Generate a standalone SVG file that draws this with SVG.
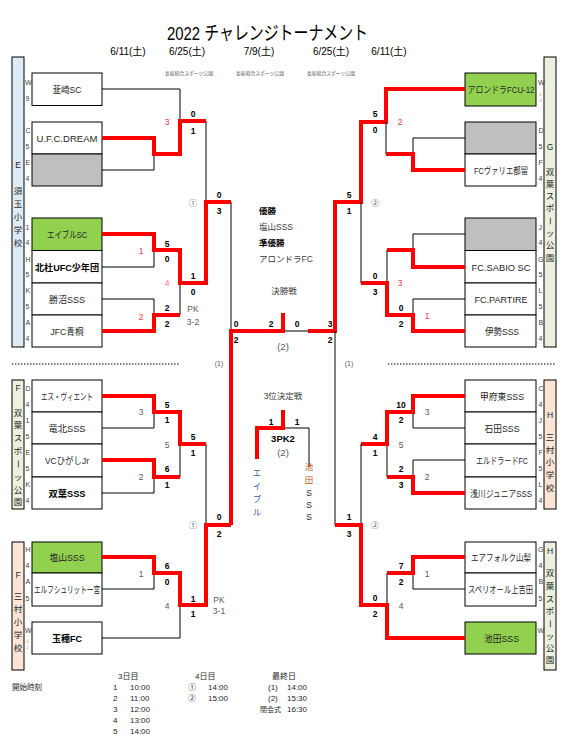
<svg xmlns="http://www.w3.org/2000/svg" width="573" height="751" viewBox="0 0 573 751">
<style>
text{font-family:"Liberation Sans","Noto Sans CJK JP",sans-serif}
.ti{font-size:19px;fill:#000}
.dt{font-size:10px;fill:#000;text-anchor:middle}
.vn{font-size:4.8px;fill:#595959;text-anchor:middle}
.tm{font-size:9.5px;fill:#262626;text-anchor:middle}
.b{font-weight:bold;fill:#000}
.s{font-size:8.5px;font-weight:bold;fill:#000;text-anchor:middle}
.g{font-size:8.5px;fill:#595959;text-anchor:middle}
.r{font-size:8.5px;fill:#FF3333;text-anchor:middle}
.pk{font-size:8.5px;fill:#FF6A8E;text-anchor:middle}
.lt{font-size:7px;fill:#404040}
.tn{font-size:4px;fill:#E07020}
.v{font-size:8.5px;fill:#262626;text-anchor:middle;dominant-baseline:central}
.c{font-size:8.5px;fill:#404040}
.ft{font-size:8px;fill:#262626}
.ln{fill:none;stroke:#000;stroke-width:1}
.rd{fill:none;stroke:#FF0000;stroke-width:4;stroke-linejoin:miter}
.bx{stroke:#000;stroke-width:1}
.dot{stroke:#000;stroke-width:1;stroke-dasharray:1.5 1.5}
</style>

<!-- header -->
<text class="ti" x="167" y="40" textLength="201" lengthAdjust="spacingAndGlyphs">2022 チャレンジトーナメント</text>
<text class="dt" x="128" y="55">6/11(土)</text>
<text class="dt" x="187" y="55">6/25(土)</text>
<text class="dt" x="259" y="55">7/9(土)</text>
<text class="dt" x="331" y="55">6/25(土)</text>
<text class="dt" x="389" y="55">6/11(土)</text>
<text class="vn" x="189" y="75">長坂総合スポーツ公園</text>
<text class="vn" x="260" y="75">長坂総合スポーツ公園</text>
<text class="vn" x="331" y="75">長坂総合スポーツ公園</text>

<!-- venue boxes -->
<g id="venue-E">
<rect class="bx" x="12" y="57" width="12" height="290" fill="#DDEBF7"/>
<text class="v" x="18" y="165">E</text>
<text class="v" x="18" y="191">須</text><text class="v" x="18" y="204">玉</text><text class="v" x="18" y="217">小</text><text class="v" x="18" y="230">学</text><text class="v" x="18" y="243">校</text>
</g>
<g id="venue-G">
<rect class="bx" x="544" y="57" width="12" height="290" fill="#EBF1DE"/>
<text class="v" x="550" y="147">G</text>
<text class="v" x="550" y="172">双</text><text class="v" x="550" y="184">葉</text><text class="v" x="550" y="196">ス</text><text class="v" x="550" y="208">ポ</text><text class="v" x="550" y="221" transform="rotate(90 550 221)">ー</text><text class="v" x="550" y="233">ッ</text><text class="v" x="550" y="245">公</text><text class="v" x="550" y="258">園</text>
</g>
<g id="venue-F1">
<rect class="bx" x="12" y="380" width="12" height="129" fill="#EBF1DE"/>
<text class="v" x="18" y="388">F</text>
<text class="v" x="18" y="413">双</text><text class="v" x="18" y="425">葉</text><text class="v" x="18" y="438">ス</text><text class="v" x="18" y="451">ポ</text><text class="v" x="18" y="464" transform="rotate(90 18 464)">ー</text><text class="v" x="18" y="477">ッ</text><text class="v" x="18" y="490">公</text><text class="v" x="18" y="502">園</text>
</g>
<g id="venue-F2">
<rect class="bx" x="12" y="542" width="12" height="128" fill="#FCE4D6"/>
<text class="v" x="18" y="575">F</text>
<text class="v" x="18" y="596">三</text><text class="v" x="18" y="609">村</text><text class="v" x="18" y="622">小</text><text class="v" x="18" y="635">学</text><text class="v" x="18" y="648">校</text>
</g>
<g id="venue-H1">
<rect class="bx" x="544" y="380" width="12" height="129" fill="#FCE4D6"/>
<text class="v" x="550" y="415">H</text>
<text class="v" x="550" y="437">三</text><text class="v" x="550" y="450">村</text><text class="v" x="550" y="462">小</text><text class="v" x="550" y="475">学</text><text class="v" x="550" y="488">校</text>
</g>
<g id="venue-H2">
<rect class="bx" x="544" y="542" width="12" height="128" fill="#EBF1DE"/>
<text class="v" x="550" y="551">H</text>
<text class="v" x="550" y="573">双</text><text class="v" x="550" y="586">葉</text><text class="v" x="550" y="599">ス</text><text class="v" x="550" y="611">ポ</text><text class="v" x="550" y="624" transform="rotate(90 550 624)">ー</text><text class="v" x="550" y="636">ッ</text><text class="v" x="550" y="648">公</text><text class="v" x="550" y="660">園</text>
</g>

<!-- team boxes left -->
<g id="n-nirasaki"><rect class="bx" x="32" y="73" width="70" height="32.5" fill="#fff"/><text class="tm" x="67" y="92.5" textLength="29" lengthAdjust="spacingAndGlyphs">韮崎SC</text><text class="lt" x="25" y="84.5">W</text><text class="lt" x="25.5" y="100.5">9</text></g>
<g id="n-dream"><rect class="bx" x="32" y="122" width="70" height="32" fill="#fff"/><text class="tm" x="67" y="141.5" textLength="61" lengthAdjust="spacingAndGlyphs">U.F.C.DREAM</text><text class="lt" x="25.5" y="132.5">C</text><text class="lt" x="25.5" y="148.5">5</text></g>
<g id="n-gray1"><rect class="bx" x="32" y="154" width="70" height="32" fill="#BFBFBF"/><text class="lt" x="25.5" y="164.5">E</text><text class="lt" x="25.5" y="180.5">4</text></g>
<g id="n-able"><rect class="bx" x="32" y="218" width="70" height="32.5" fill="#92D050"/><text class="tm" x="67" y="237.5" textLength="40" lengthAdjust="spacingAndGlyphs">エイブルSC</text><text class="lt" x="25.5" y="229.5">1</text><text class="lt" x="25.5" y="244.5">4</text></g>
<g id="n-hokuto"><rect class="bx" x="32" y="250.5" width="70" height="32.5" fill="#fff"/><text class="tm b" x="67" y="270.5" textLength="64" lengthAdjust="spacingAndGlyphs">北杜UFC少年団</text><text class="lt" x="25.5" y="261.5">H</text><text class="lt" x="25.5" y="276.5">5</text></g>
<g id="n-katsunuma"><rect class="bx" x="32" y="283" width="70" height="32" fill="#fff"/><text class="tm" x="67" y="302.5" textLength="36" lengthAdjust="spacingAndGlyphs">勝沼SSS</text><text class="lt" x="25.5" y="292.5">K</text><text class="lt" x="25.5" y="308.5">5</text></g>
<g id="n-jfc"><rect class="bx" x="32" y="315" width="70" height="32" fill="#fff"/><text class="tm" x="67" y="334.5" textLength="33" lengthAdjust="spacingAndGlyphs">JFC青桐</text><text class="lt" x="25.5" y="324.5">A</text><text class="lt" x="25.5" y="341">4</text></g>

<g id="n-esu"><rect class="bx" x="32" y="380" width="70" height="32" fill="#fff"/><text class="tm" x="67" y="399.5" textLength="52" lengthAdjust="spacingAndGlyphs">エス・ヴィエント</text><text class="lt" x="25.5" y="390.5">D</text><text class="lt" x="25.5" y="406.5">4</text></g>
<g id="n-ryuhoku"><rect class="bx" x="32" y="412" width="70" height="32" fill="#fff"/><text class="tm" x="67" y="431.5" textLength="37" lengthAdjust="spacingAndGlyphs">竜北SSS</text><text class="lt" x="25.5" y="422.5">1</text><text class="lt" x="25.5" y="438.5">5</text></g>
<g id="n-vc"><rect class="bx" x="32" y="444" width="70" height="33" fill="#fff"/><text class="tm" x="67" y="463.5" textLength="44" lengthAdjust="spacingAndGlyphs">VCひがしJr</text><text class="lt" x="25.5" y="454.5">E</text><text class="lt" x="25.5" y="470.5">5</text></g>
<g id="n-futaba"><rect class="bx" x="32" y="477" width="70" height="32" fill="#fff"/><text class="tm b" x="67" y="496.5" textLength="37" lengthAdjust="spacingAndGlyphs">双葉SSS</text><text class="lt" x="25.5" y="486.5">K</text><text class="lt" x="25.5" y="502.5">4</text></g>
<g id="n-enzan"><rect class="bx" x="32" y="542" width="70" height="31" fill="#92D050"/><text class="tm" x="67" y="560.5" textLength="35" lengthAdjust="spacingAndGlyphs">塩山SSS</text><text class="lt" x="25.5" y="551.5">H</text><text class="lt" x="25.5" y="567.5">4</text></g>
<g id="n-elf"><rect class="bx" x="32" y="573" width="70" height="33" fill="#fff"/><text class="tm" x="67" y="592.5" textLength="66" lengthAdjust="spacingAndGlyphs">エルフシュリット一宮</text><text class="lt" x="25.5" y="583.5">A</text><text class="lt" x="25.5" y="600.5">5</text></g>
<g id="n-tamaho"><rect class="bx" x="32" y="622" width="70" height="32" fill="#fff"/><text class="tm b" x="67" y="641.5" textLength="30" lengthAdjust="spacingAndGlyphs">玉穂FC</text><text class="lt" x="25" y="632.5">W</text><text class="tn" x="26.5" y="642.5">1</text><text class="tn" x="26.5" y="649">2</text></g>

<!-- team boxes right -->
<g id="n-alondra"><rect class="bx" x="465" y="73" width="71" height="33" fill="#92D050"/><text class="tm" x="501" y="92.5" textLength="67" lengthAdjust="spacingAndGlyphs">アロンドラFCU-12</text><text class="lt" x="538" y="84.5">W</text><text class="tn" x="539.5" y="95.5">1</text><text class="tn" x="539.5" y="102">2</text></g>
<g id="n-gray2"><rect class="bx" x="465" y="122" width="71" height="32" fill="#BFBFBF"/><text class="lt" x="538.5" y="132.5">D</text><text class="lt" x="538.5" y="148.5">5</text></g>
<g id="n-varie"><rect class="bx" x="465" y="154" width="71" height="32" fill="#fff"/><text class="tm" x="501" y="173.5" textLength="54" lengthAdjust="spacingAndGlyphs">FCヴァリエ都留</text><text class="lt" x="538.5" y="164.5">F</text><text class="lt" x="538.5" y="180.5">4</text></g>
<g id="n-gray3"><rect class="bx" x="465" y="218" width="71" height="32.5" fill="#BFBFBF"/><text class="lt" x="538.5" y="229.5">J</text><text class="lt" x="538.5" y="244.5">4</text></g>
<g id="n-sabio"><rect class="bx" x="465" y="250.5" width="71" height="32.5" fill="#fff"/><text class="tm" x="501" y="270.5" textLength="59" lengthAdjust="spacingAndGlyphs">FC.SABIO SC</text><text class="lt" x="538" y="261.5">G</text><text class="lt" x="538.5" y="276.5">5</text></g>
<g id="n-partire"><rect class="bx" x="465" y="283" width="71" height="32" fill="#fff"/><text class="tm" x="501" y="302.5" textLength="53" lengthAdjust="spacingAndGlyphs">FC.PARTIRE</text><text class="lt" x="538.5" y="292.5">L</text><text class="lt" x="538.5" y="308.5">5</text></g>
<g id="n-ise"><rect class="bx" x="465" y="315" width="71" height="32" fill="#fff"/><text class="tm" x="502" y="334.5" textLength="34" lengthAdjust="spacingAndGlyphs">伊勢SSS</text><text class="lt" x="538.5" y="324.5">B</text><text class="lt" x="538.5" y="340.5">4</text></g>

<g id="n-kofuhigashi"><rect class="bx" x="465" y="380" width="71" height="32" fill="#fff"/><text class="tm" x="502" y="399.5" textLength="44" lengthAdjust="spacingAndGlyphs">甲府東SSS</text><text class="lt" x="538.5" y="390.5">C</text><text class="lt" x="538.5" y="406.5">4</text></g>
<g id="n-ishida"><rect class="bx" x="465" y="412" width="71" height="32" fill="#fff"/><text class="tm" x="502" y="431.5" textLength="35" lengthAdjust="spacingAndGlyphs">石田SSS</text><text class="lt" x="538.5" y="422.5">J</text><text class="lt" x="538.5" y="438.5">5</text></g>
<g id="n-eldorado"><rect class="bx" x="465" y="444" width="71" height="33" fill="#fff"/><text class="tm" x="502" y="463.5" textLength="52" lengthAdjust="spacingAndGlyphs">エルドラードFC</text><text class="lt" x="538.5" y="454.5">F</text><text class="lt" x="538.5" y="470.5">5</text></g>
<g id="n-asakawa"><rect class="bx" x="465" y="477" width="71" height="32" fill="#fff"/><text class="tm" x="501" y="496.5" textLength="62" lengthAdjust="spacingAndGlyphs">浅川ジュニアSSS</text><text class="lt" x="538.5" y="486.5">L</text><text class="lt" x="538.5" y="502.5">4</text></g>
<g id="n-airfolk"><rect class="bx" x="465" y="542" width="71" height="31" fill="#fff"/><text class="tm" x="501" y="560.5" textLength="60" lengthAdjust="spacingAndGlyphs">エアフォルク山梨</text><text class="lt" x="538" y="551.5">G</text><text class="lt" x="538.5" y="567.5">4</text></g>
<g id="n-superior"><rect class="bx" x="465" y="573" width="71" height="33" fill="#fff"/><text class="tm" x="500.5" y="592.5" textLength="65" lengthAdjust="spacingAndGlyphs">スペリオール上吉田</text><text class="lt" x="538.5" y="583.5">B</text><text class="lt" x="538.5" y="600.5">5</text></g>
<g id="n-ikeda"><rect class="bx" x="465" y="622" width="71" height="32" fill="#92D050"/><text class="tm" x="501.5" y="641.5" textLength="35" lengthAdjust="spacingAndGlyphs">池田SSS</text><text class="lt" x="537.5" y="632.5">W</text><text class="tn" x="539.5" y="642.5">:</text><text class="tn" x="539.5" y="649">:</text></g>

<!-- connectors -->
<g id="connectors">
<line class="dot" x1="12" y1="364" x2="180" y2="364"/>
<line class="dot" x1="388" y1="364" x2="555" y2="364"/>
<path class="ln" d="M102,89 H180 V121"/>
<path class="ln" d="M102,170 H154 V154"/>
<path class="ln" d="M206,121 V202"/>
<path class="ln" d="M102,267 H154 V250"/>
<path class="ln" d="M102,299 H154 V315"/>
<path class="ln" d="M180,283 V315"/>
<path class="ln" d="M231,202 V331"/>
<path class="rd" d="M102,138 H154 V154 H180 V121 H206"/>
<path class="rd" d="M102,234 H154 V250 H180 V283 H206 V202 H231"/>
<path class="rd" d="M102,331 H154 V315 H180"/>
<path class="ln" d="M283,331 H308"/>
<path class="rd" d="M231,525 V331 H283 V313"/>
<path class="rd" d="M308,331 H335 V202 H361 V122 H386 V89 H465"/>
<path class="ln" d="M386,122 V154"/>
<path class="ln" d="M465,138 H413 V154"/>
<path class="rd" d="M465,170 H413 V154 H386"/>
<path class="ln" d="M361,202 V283"/>
<path class="ln" d="M465,234 H413 V250"/>
<path class="ln" d="M387,250 V283"/>
<path class="rd" d="M465,267 H413 V250 H387"/>
<path class="ln" d="M465,299 H413 V315"/>
<path class="rd" d="M465,331 H413 V315 H387 V283 H361"/>
<path class="ln" d="M102,428 H154 V412"/>
<path class="ln" d="M180,444 V477"/>
<path class="ln" d="M102,493 H154 V477"/>
<path class="ln" d="M206,444 V525"/>
<path class="rd" d="M102,396 H154 V412 H180 V444 H206"/>
<path class="rd" d="M102,460 H154 V477 H180"/>
<path class="ln" d="M102,589 H154 V573"/>
<path class="ln" d="M102,638 H180 V605"/>
<path class="rd" d="M102,557 H154 V573 H180 V605 H206 V525 H231"/>
<path class="ln" d="M465,428 H413 V412"/>
<path class="ln" d="M465,460 H413 V477"/>
<path class="ln" d="M387,444 V477"/>
<path class="rd" d="M465,396 H413 V412 H387 V444 H361"/>
<path class="rd" d="M465,493 H413 V477 H387"/>
<path class="ln" d="M361,444 V525"/>
<path class="ln" d="M335,331 V525"/>
<path class="ln" d="M465,589 H413 V573"/>
<path class="ln" d="M387,573 V605"/>
<path class="rd" d="M465,557 H413 V573 H387"/>
<path class="rd" d="M465,638 H387 V605 H361 V525 H335"/>
<path class="ln" d="M283,428 H309 V467"/>
<path class="rd" d="M257,459 V428 H283 V410"/>
</g>

<g id="scores">
<text class="r" x="167" y="125">3</text>
<text class="s" x="193" y="117">0</text><text class="s" x="193" y="134">1</text>
<text class="s" x="219" y="198">0</text><text class="s" x="219" y="214">3</text>
<text class="g" x="193" y="206" fill="#808080">①</text>
<text class="r" x="141" y="254">1</text>
<text class="s" x="167" y="247">5</text><text class="s" x="167" y="262">0</text>
<text class="pk" x="167" y="286">4</text>
<text class="s" x="193" y="279">1</text><text class="s" x="193" y="295">0</text>
<text class="s" x="167" y="311">2</text><text class="s" x="167" y="327">2</text>
<text class="r" x="141" y="320">2</text>
<text class="g" x="193" y="312">PK</text><text class="g" x="193" y="325">3-2</text>
<text class="s" x="236" y="327">0</text><text class="s" x="271" y="327">2</text><text class="s" x="297" y="327">0</text><text class="s" x="330" y="327">3</text>
<text class="s" x="236" y="343">2</text><text class="s" x="330" y="343">2</text>
<text class="g" x="283" y="350" style="font-size:9.5px">(2)</text>
<text class="g" x="219" y="366" style="font-size:7px">(1)</text>
<text class="g" x="349" y="366" style="font-size:7px">(1)</text>
<text class="s" x="375" y="117">5</text><text class="s" x="375" y="133">0</text>
<text class="r" x="400" y="125">2</text>
<text class="s" x="349" y="198">5</text><text class="s" x="349" y="214">1</text>
<text class="g" x="375" y="206" fill="#808080">②</text>
<text class="s" x="375" y="279">0</text><text class="s" x="375" y="295">3</text>
<text class="r" x="400" y="286">3</text>
<text class="s" x="401" y="311">0</text><text class="s" x="401" y="327">2</text>
<text class="r" x="427" y="319">1</text>
<text class="g" x="141" y="415">3</text>
<text class="s" x="167" y="408">5</text><text class="s" x="167" y="423">1</text>
<text class="g" x="167" y="448">5</text>
<text class="s" x="167" y="472">6</text><text class="s" x="167" y="488">1</text>
<text class="g" x="141" y="480">2</text>
<text class="s" x="193" y="440">5</text><text class="s" x="193" y="456">1</text>
<text class="s" x="219" y="520">0</text><text class="s" x="219" y="537">2</text>
<text class="g" x="193" y="528" fill="#808080">①</text>
<text class="g" x="141" y="577">1</text>
<text class="s" x="167" y="569">6</text><text class="s" x="167" y="585">0</text>
<text class="g" x="167" y="609">4</text>
<text class="s" x="193" y="602">1</text><text class="s" x="193" y="617">1</text>
<text class="g" x="219" y="603">PK</text><text class="g" x="219" y="614">3-1</text>
<text class="s" x="401" y="408">10</text><text class="s" x="401" y="423">2</text>
<text class="g" x="427" y="415">3</text>
<text class="g" x="401" y="448">5</text>
<text class="s" x="401" y="472">2</text><text class="s" x="401" y="488">3</text>
<text class="g" x="427" y="480">2</text>
<text class="s" x="375" y="440">4</text><text class="s" x="375" y="456">1</text>
<text class="s" x="401" y="569">7</text><text class="s" x="401" y="585">2</text>
<text class="g" x="427" y="577">1</text>
<text class="g" x="401" y="609">4</text>
<text class="s" x="375" y="601">0</text><text class="s" x="375" y="617">2</text>
<text class="s" x="349" y="520">1</text><text class="s" x="349" y="537">3</text>
<text class="g" x="375" y="528" fill="#808080">②</text>
<text class="s" x="271" y="425">1</text><text class="s" x="297" y="425">1</text>
<text class="s" x="283" y="442" style="font-size:9.5px">3PK2</text>
<text class="g" x="283" y="456" style="font-size:9.5px">(2)</text>
</g>

<g id="center">
<text class="c" x="259" y="214" font-weight="bold" style="fill:#000">優勝</text>
<text class="c" x="259" y="230">塩山SSS</text>
<text class="c" x="259" y="246" font-weight="bold" style="fill:#000">準優勝</text>
<text class="c" x="259" y="262">アロンドラFC</text>
<text class="c" x="284" y="294" text-anchor="middle">決勝戦</text>
<text class="c" x="283" y="399" text-anchor="middle">3位決定戦</text>
<text class="v" x="257" y="473" style="fill:#3A64B0">エ</text><text class="v" x="257" y="486" style="fill:#3A64B0">イ</text><text class="v" x="257" y="499" style="fill:#3A64B0">ブ</text><text class="v" x="257" y="512" style="fill:#3A64B0">ル</text>
<text class="v" x="309" y="467" style="fill:#C65911">池</text><text class="v" x="309" y="480" style="fill:#C65911">田</text><text class="v" x="309" y="493">S</text><text class="v" x="309" y="505">S</text><text class="v" x="309" y="517">S</text>
</g>

<g id="footer">
<text class="ft" x="12" y="690" style="font-size:7.5px">開始時刻</text>
<text class="ft" x="118" y="679">3日目</text>
<text class="ft" x="195" y="679">4日目</text>
<text class="ft" x="272" y="679">最終日</text>
<text class="ft" x="113" y="690">1</text><text class="ft" x="130" y="690">10:00</text>
<text class="ft" x="113" y="701">2</text><text class="ft" x="130" y="701">11:00</text>
<text class="ft" x="113" y="712">3</text><text class="ft" x="130" y="712">12:00</text>
<text class="ft" x="113" y="723">4</text><text class="ft" x="130" y="723">13:00</text>
<text class="ft" x="113" y="734">5</text><text class="ft" x="130" y="734">14:00</text>
<text class="ft" x="188" y="690">①</text><text class="ft" x="208" y="690">14:00</text>
<text class="ft" x="188" y="701">②</text><text class="ft" x="208" y="701">15:00</text>
<text class="ft" x="268" y="690">(1)</text><text class="ft" x="287" y="690">14:00</text>
<text class="ft" x="268" y="701">(2)</text><text class="ft" x="287" y="701">15:30</text>
<text class="ft" x="260" y="712" style="font-size:7px">閉会式</text><text class="ft" x="287" y="712">16:30</text>
</g>
</svg>
